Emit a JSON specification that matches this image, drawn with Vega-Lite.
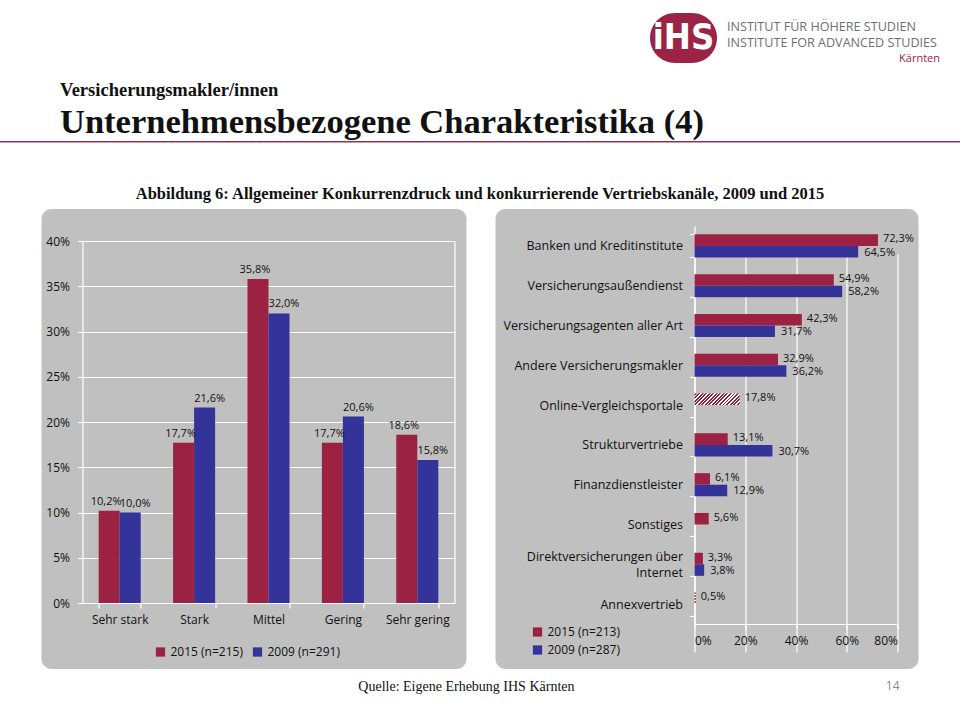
{
  "$schema": "https://vega.github.io/schema/vega-lite/v6.json",
  "background": "white",
  "padding": {"left": 0, "top": 13, "right": 0, "bottom": 0},
  "center": true,
  "spacing": 0,
  "config": {
    "locale": {"number": {"decimal": ",", "thousands": ".", "grouping": [3], "currency": ["", " €"]}},
    "font": "Open Sans",
    "view": {"stroke": null},
    "axis": {"labelFont": "Open Sans", "labelColor": "#111111", "domainColor": "white", "tickColor": "white", "gridColor": "white", "domainWidth": 1.2, "tickWidth": 1.2, "gridWidth": 1.2},
    "legend": {"labelFont": "Open Sans", "labelFontSize": 12, "labelColor": "#111111", "symbolType": "square", "symbolSize": 85, "symbolStrokeWidth": 0, "padding": 0, "labelOffset": 4}
  },
  "vconcat": [
    {
      "spacing": -5,
      "vconcat": [
        {
          "bounds": "flush",
          "spacing": 10,
          "hconcat": [
            {
              "width": 640,
              "height": 50,
              "view": {"fill": "white", "stroke": null},
              "data": {"values": [{}]},
              "mark": {"type": "text"},
              "encoding": {"text": {"value": ""}},
              "title": {
                "text": "Versicherungsmakler/innen",
                "subtitle": "Unternehmensbezogene Charakteristika (4)",
                "orient": "bottom",
                "anchor": "start",
                "dx": 60,
                "offset": 18,
                "font": "Liberation Serif",
                "fontSize": 18.5,
                "fontWeight": "bold",
                "color": "#111111",
                "subtitleFont": "Liberation Serif",
                "subtitleFontSize": 34.5,
                "subtitleFontWeight": "bold",
                "subtitleColor": "#111111",
                "subtitlePadding": 6.5
              }
            },
            {
              "width": 67,
              "height": 50,
              "view": {"fill": "#9c2346", "cornerRadius": 25, "stroke": null},
              "data": {"values": [{"logo": "iHS"}]},
              "mark": {"type": "text", "align": "center", "baseline": "middle", "font": "Liberation Sans Narrow, DejaVu Sans Condensed, sans-serif", "fontWeight": "bold", "fontSize": 36, "color": "white"},
              "encoding": {"text": {"field": "logo"}}
            },
            {
              "width": 233,
              "height": 50,
              "view": {"fill": "white", "stroke": null},
              "layer": [
                {
                  "data": {"values": [{"zeile": "INSTITUT FÜR HÖHERE STUDIEN"}, {"zeile": "INSTITUTE FOR ADVANCED STUDIES"}]},
                  "mark": {"type": "text", "align": "left", "baseline": "middle", "fontSize": 12.6, "color": "#6f6f6f", "dy": -3},
                  "encoding": {
                    "x": {"value": 0},
                    "y": {"field": "zeile", "type": "nominal", "sort": null, "axis": null, "scale": {"type": "point", "padding": 1.05}},
                    "text": {"field": "zeile"}
                  }
                },
                {
                  "data": {"values": [{"zeile": "Kärnten"}]},
                  "mark": {"type": "text", "align": "right", "baseline": "alphabetic", "fontSize": 11, "color": "#9c2346", "dx": -20, "dy": -1},
                  "encoding": {
                    "x": {"value": "width"},
                    "y": {"value": "height"},
                    "text": {"field": "zeile"}
                  }
                }
              ]
            }
          ]
        },
        {
          "width": 960,
          "height": 1.5,
          "view": {"fill": "#8b3558", "stroke": null},
          "data": {"values": [{}]},
          "mark": {"type": "text"},
          "encoding": {"text": {"value": ""}},
          "title": {
            "text": "Abbildung 6: Allgemeiner Konkurrenzdruck und konkurrierende Vertriebskanäle, 2009 und 2015",
            "orient": "bottom",
            "anchor": "middle",
            "offset": 39,
            "font": "Liberation Serif",
            "fontSize": 16.5,
            "fontWeight": "bold",
            "color": "#111111"
          }
        }
      ]
    },
    {
      "spacing": 29,
      "bounds": "flush",
      "resolve": {"scale": {"color": "independent", "x": "independent", "y": "independent"}},
      "hconcat": [
        {
          "width": 425,
          "height": 460,
          "view": {"fill": "#c0c0c0", "cornerRadius": 10, "stroke": null},
          "title": {"text": "Quelle: Eigene Erhebung IHS Kärnten", "orient": "bottom", "anchor": "end", "dx": 108, "offset": 11, "font": "Liberation Serif", "fontSize": 14, "fontWeight": "normal", "color": "#111111"},
          "data": {"values": [
            {"stufe": "Sehr stark", "gruppe": "2015 (n=215)", "anteil": 0.102},
            {"stufe": "Sehr stark", "gruppe": "2009 (n=291)", "anteil": 0.100},
            {"stufe": "Stark", "gruppe": "2015 (n=215)", "anteil": 0.177},
            {"stufe": "Stark", "gruppe": "2009 (n=291)", "anteil": 0.216},
            {"stufe": "Mittel", "gruppe": "2015 (n=215)", "anteil": 0.358},
            {"stufe": "Mittel", "gruppe": "2009 (n=291)", "anteil": 0.320},
            {"stufe": "Gering", "gruppe": "2015 (n=215)", "anteil": 0.177},
            {"stufe": "Gering", "gruppe": "2009 (n=291)", "anteil": 0.206},
            {"stufe": "Sehr gering", "gruppe": "2015 (n=215)", "anteil": 0.186},
            {"stufe": "Sehr gering", "gruppe": "2009 (n=291)", "anteil": 0.158}
          ]},
          "encoding": {
            "x": {
              "field": "stufe", "type": "nominal",
              "sort": ["Sehr stark", "Stark", "Mittel", "Gering", "Sehr gering"],
              "title": null,
              "scale": {"range": [41, 413], "paddingInner": 0.435, "paddingOuter": 0.2175},
              "axis": {"orient": "bottom", "offset": -66, "labelAngle": 0, "labelFontSize": 12, "labelPadding": 6, "tickSize": 5, "tickBand": "extent", "grid": false, "title": null}
            },
            "xOffset": {"field": "gruppe", "type": "nominal", "sort": ["2015 (n=215)", "2009 (n=291)"], "scale": {"domain": ["2015 (n=215)", "2009 (n=291)"]}}
          },
          "resolve": {"axis": {"y": "independent"}},
          "layer": [
            {
              "mark": {"type": "bar"},
              "encoding": {
                "y": {"field": "anteil", "type": "quantitative", "scale": {"domain": [0, 0.4], "range": [394, 32]}, "axis": {"orient": "left", "offset": -41, "values": [0, 0.05, 0.1, 0.15, 0.2, 0.25, 0.3, 0.35, 0.4], "format": ".0%", "grid": true, "tickSize": 5, "labelPadding": 8, "labelFontSize": 12, "title": null}},
                "color": {"field": "gruppe", "type": "nominal", "sort": ["2015 (n=215)", "2009 (n=291)"], "scale": {"domain": ["2015 (n=215)", "2009 (n=291)"], "range": ["#9c2244", "#333399"]}, "legend": {"orient": "none", "legendX": 113, "legendY": 437, "direction": "horizontal", "title": null, "columnPadding": 8}}
              }
            },
            {
              "transform": [{"filter": "datum.gruppe == '2015 (n=215)'"}],
              "mark": {"type": "text", "baseline": "bottom", "dy": -4, "dx": -3, "fontSize": 11, "color": "#111111"},
              "encoding": {
                "y": {"field": "anteil", "type": "quantitative", "scale": {"domain": [0, 0.4], "range": [394, 32]}, "axis": {"orient": "right", "offset": -12, "labels": false, "ticks": false, "grid": false, "title": null}},
                "text": {"field": "anteil", "type": "quantitative", "format": ".1%"}
              }
            },
            {
              "transform": [{"filter": "datum.gruppe == '2009 (n=291)'"}],
              "mark": {"type": "text", "baseline": "bottom", "dy": -4, "dx": 5, "fontSize": 11, "color": "#111111"},
              "encoding": {
                "y": {"field": "anteil", "type": "quantitative", "scale": {"domain": [0, 0.4], "range": [394, 32]}, "axis": null},
                "text": {"field": "anteil", "type": "quantitative", "format": ".1%"}
              }
            }
          ]
        },
        {
          "width": 423,
          "height": 460,
          "view": {"fill": "#c0c0c0", "cornerRadius": 10, "stroke": null},
          "title": {"text": "14", "orient": "bottom", "anchor": "end", "dx": -19, "offset": 12, "font": "Open Sans", "fontSize": 12, "fontWeight": "normal", "color": "#8c8c8c"},
          "data": {"values": [
            {"kanal": "Banken und Kreditinstitute", "gruppe": "2015 (n=213)", "anteil": 0.723},
            {"kanal": "Banken und Kreditinstitute", "gruppe": "2009 (n=287)", "anteil": 0.645},
            {"kanal": "Versicherungsaußendienst", "gruppe": "2015 (n=213)", "anteil": 0.549},
            {"kanal": "Versicherungsaußendienst", "gruppe": "2009 (n=287)", "anteil": 0.582},
            {"kanal": "Versicherungsagenten aller Art", "gruppe": "2015 (n=213)", "anteil": 0.423},
            {"kanal": "Versicherungsagenten aller Art", "gruppe": "2009 (n=287)", "anteil": 0.317},
            {"kanal": "Andere Versicherungsmakler", "gruppe": "2015 (n=213)", "anteil": 0.329},
            {"kanal": "Andere Versicherungsmakler", "gruppe": "2009 (n=287)", "anteil": 0.362},
            {"kanal": "Online-Vergleichsportale", "gruppe": "2015 (n=213)", "anteil": 0.178},
            {"kanal": "Strukturvertriebe", "gruppe": "2015 (n=213)", "anteil": 0.131},
            {"kanal": "Strukturvertriebe", "gruppe": "2009 (n=287)", "anteil": 0.307},
            {"kanal": "Finanzdienstleister", "gruppe": "2015 (n=213)", "anteil": 0.061},
            {"kanal": "Finanzdienstleister", "gruppe": "2009 (n=287)", "anteil": 0.129},
            {"kanal": "Sonstiges", "gruppe": "2015 (n=213)", "anteil": 0.056},
            {"kanal": "Direktversicherungen über Internet", "gruppe": "2015 (n=213)", "anteil": 0.033},
            {"kanal": "Direktversicherungen über Internet", "gruppe": "2009 (n=287)", "anteil": 0.038},
            {"kanal": "Annexvertrieb", "gruppe": "2015 (n=213)", "anteil": 0.005}
          ]},
          "encoding": {
            "y": {
              "field": "kanal", "type": "nominal",
              "sort": ["Banken und Kreditinstitute", "Versicherungsaußendienst", "Versicherungsagenten aller Art", "Andere Versicherungsmakler", "Online-Vergleichsportale", "Strukturvertriebe", "Finanzdienstleister", "Sonstiges", "Direktversicherungen über Internet", "Annexvertrieb"],
              "title": null,
              "scale": {"range": [17, 415], "paddingInner": 0.42, "paddingOuter": 0.21},
              "axis": {"orient": "left", "offset": -199, "tickSize": 5, "tickBand": "extent", "labelPadding": 7, "labelFontSize": 12.5, "labelLimit": 0, "labelLineHeight": 16,
                "labelOffset": {"condition": {"test": "datum.value == 'Direktversicherungen über Internet'", "value": -8}, "value": 0},
                "labelExpr": "datum.value == 'Direktversicherungen über Internet' ? ['Direktversicherungen über', 'Internet'] : datum.label", "grid": false, "title": null}
            },
            "yOffset": {"field": "gruppe", "type": "nominal", "sort": ["2015 (n=213)", "2009 (n=287)"], "scale": {"domain": ["2015 (n=213)", "2009 (n=287)"]}},
            "x": {
              "field": "anteil", "type": "quantitative",
              "scale": {"domain": [0, 0.8], "range": [199, 402]},
              "title": null,
              "axis": {"orient": "bottom", "offset": -45, "values": [0, 0.2, 0.4, 0.6, 0.8], "format": ".0%", "grid": true, "tickSize": 5, "labelPadding": 6, "labelFontSize": 12, "title": null}
            }
          },
          "layer": [
            {
              "transform": [{"filter": "datum.kanal != 'Online-Vergleichsportale' && datum.kanal != 'Annexvertrieb'"}],
              "mark": {"type": "bar"},
              "encoding": {
                "color": {"field": "gruppe", "type": "nominal", "sort": ["2015 (n=213)", "2009 (n=287)"], "scale": {"domain": ["2015 (n=213)", "2009 (n=287)"], "range": ["#9c2244", "#333399"]}, "legend": {"orient": "none", "legendX": 36, "legendY": 417, "direction": "vertical", "title": null, "rowPadding": 6}}
              }
            },
            {
              "transform": [{"filter": "datum.kanal == 'Online-Vergleichsportale'"}],
              "mark": {"type": "bar", "fill": {"gradient": "linear", "x1": 0, "y1": 0, "x2": 1.1786, "y2": 0.3011, "stops": [
                {"offset": 0, "color": "#8e1f3f"}, {"offset": 0.0344, "color": "#8e1f3f"}, {"offset": 0.0344, "color": "#ffffff"}, {"offset": 0.0625, "color": "#ffffff"},
                {"offset": 0.0625, "color": "#8e1f3f"}, {"offset": 0.0969, "color": "#8e1f3f"}, {"offset": 0.0969, "color": "#ffffff"}, {"offset": 0.125, "color": "#ffffff"},
                {"offset": 0.125, "color": "#8e1f3f"}, {"offset": 0.1594, "color": "#8e1f3f"}, {"offset": 0.1594, "color": "#ffffff"}, {"offset": 0.1875, "color": "#ffffff"},
                {"offset": 0.1875, "color": "#8e1f3f"}, {"offset": 0.2219, "color": "#8e1f3f"}, {"offset": 0.2219, "color": "#ffffff"}, {"offset": 0.25, "color": "#ffffff"},
                {"offset": 0.25, "color": "#8e1f3f"}, {"offset": 0.2844, "color": "#8e1f3f"}, {"offset": 0.2844, "color": "#ffffff"}, {"offset": 0.3125, "color": "#ffffff"},
                {"offset": 0.3125, "color": "#8e1f3f"}, {"offset": 0.3469, "color": "#8e1f3f"}, {"offset": 0.3469, "color": "#ffffff"}, {"offset": 0.375, "color": "#ffffff"},
                {"offset": 0.375, "color": "#8e1f3f"}, {"offset": 0.4094, "color": "#8e1f3f"}, {"offset": 0.4094, "color": "#ffffff"}, {"offset": 0.4375, "color": "#ffffff"},
                {"offset": 0.4375, "color": "#8e1f3f"}, {"offset": 0.4719, "color": "#8e1f3f"}, {"offset": 0.4719, "color": "#ffffff"}, {"offset": 0.5, "color": "#ffffff"},
                {"offset": 0.5, "color": "#8e1f3f"}, {"offset": 0.5344, "color": "#8e1f3f"}, {"offset": 0.5344, "color": "#ffffff"}, {"offset": 0.5625, "color": "#ffffff"},
                {"offset": 0.5625, "color": "#8e1f3f"}, {"offset": 0.5969, "color": "#8e1f3f"}, {"offset": 0.5969, "color": "#ffffff"}, {"offset": 0.625, "color": "#ffffff"},
                {"offset": 0.625, "color": "#8e1f3f"}, {"offset": 0.6594, "color": "#8e1f3f"}, {"offset": 0.6594, "color": "#ffffff"}, {"offset": 0.6875, "color": "#ffffff"},
                {"offset": 0.6875, "color": "#8e1f3f"}, {"offset": 0.7219, "color": "#8e1f3f"}, {"offset": 0.7219, "color": "#ffffff"}, {"offset": 0.75, "color": "#ffffff"},
                {"offset": 0.75, "color": "#8e1f3f"}, {"offset": 0.7844, "color": "#8e1f3f"}, {"offset": 0.7844, "color": "#ffffff"}, {"offset": 0.8125, "color": "#ffffff"},
                {"offset": 0.8125, "color": "#8e1f3f"}, {"offset": 0.8469, "color": "#8e1f3f"}, {"offset": 0.8469, "color": "#ffffff"}, {"offset": 0.875, "color": "#ffffff"},
                {"offset": 0.875, "color": "#8e1f3f"}, {"offset": 0.9094, "color": "#8e1f3f"}, {"offset": 0.9094, "color": "#ffffff"}, {"offset": 0.9375, "color": "#ffffff"},
                {"offset": 0.9375, "color": "#8e1f3f"}, {"offset": 0.9719, "color": "#8e1f3f"}, {"offset": 0.9719, "color": "#ffffff"}, {"offset": 1, "color": "#ffffff"}
              ]}},
              "encoding": {}
            },
            {
              "transform": [{"filter": "datum.kanal == 'Annexvertrieb'"}],
              "mark": {"type": "bar", "fill": {"gradient": "linear", "x1": 0, "y1": 0, "x2": 0, "y2": 1, "stops": [
                {"offset": 0, "color": "#8e1f3f"}, {"offset": 0.125, "color": "#8e1f3f"}, {"offset": 0.125, "color": "#ffffff"}, {"offset": 0.25, "color": "#ffffff"},
                {"offset": 0.25, "color": "#8e1f3f"}, {"offset": 0.375, "color": "#8e1f3f"}, {"offset": 0.375, "color": "#ffffff"}, {"offset": 0.5, "color": "#ffffff"},
                {"offset": 0.5, "color": "#8e1f3f"}, {"offset": 0.625, "color": "#8e1f3f"}, {"offset": 0.625, "color": "#ffffff"}, {"offset": 0.75, "color": "#ffffff"},
                {"offset": 0.75, "color": "#8e1f3f"}, {"offset": 0.875, "color": "#8e1f3f"}, {"offset": 0.875, "color": "#ffffff"}, {"offset": 1, "color": "#ffffff"}
              ]}},
              "encoding": {}
            },
            {
              "transform": [{"filter": "datum.gruppe == '2015 (n=213)'"}],
              "mark": {"type": "text", "align": "left", "baseline": "middle", "dx": 5, "dy": -1, "fontSize": 11, "color": "#111111"},
              "encoding": {"text": {"field": "anteil", "type": "quantitative", "format": ".1%"}}
            },
            {
              "transform": [{"filter": "datum.gruppe == '2009 (n=287)'"}],
              "mark": {"type": "text", "align": "left", "baseline": "middle", "dx": 6, "dy": 1, "fontSize": 11, "color": "#111111"},
              "encoding": {"text": {"field": "anteil", "type": "quantitative", "format": ".1%"}}
            }
          ]
        }
      ]
    }
  ]
}
